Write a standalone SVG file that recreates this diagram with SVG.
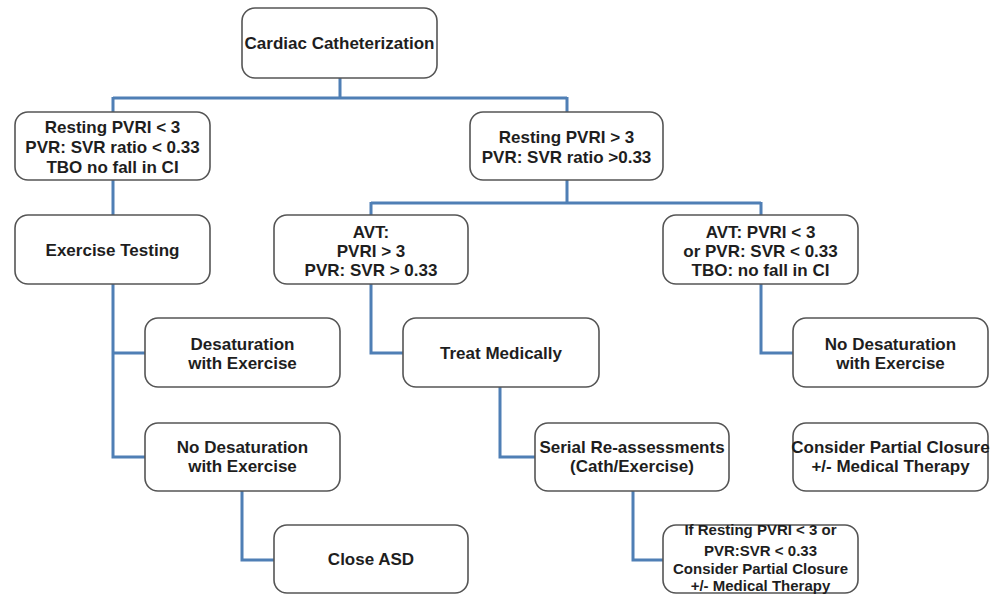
<svg xmlns="http://www.w3.org/2000/svg" width="1001" height="594" viewBox="0 0 1001 594">
<style>
.box{fill:#fff;stroke:#555;stroke-width:1.6}
.t{font-family:"Liberation Sans",Arial,sans-serif;font-weight:bold;font-size:17px;fill:#1e1e1e;text-anchor:middle}
.s{font-size:15px}
.c{fill:none;stroke:#4f7fb5;stroke-width:3}
</style>
<rect width="1001" height="594" fill="#fff"/>
<g id="connectors">
<path class="c" d="M340 78V98M113 98H567M113 97V112M567 97V112"/>
<path class="c" d="M113 180V215M113 284V457H145M113 353H145"/>
<path class="c" d="M242 491V560H274"/>
<path class="c" d="M567 180V203M371 203H761M371 202V215M761 202V215"/>
<path class="c" d="M371 284V353H403"/>
<path class="c" d="M761 284V353H793"/>
<path class="c" d="M500 387V457H535"/>
<path class="c" d="M633 491V560H663"/>
</g>
<g id="n-cath"><rect class="box" x="242" y="8" width="195" height="70" rx="13"/><text class="t" x="339.5" y="49">Cardiac Catheterization</text></g>
<g id="n-rest-low"><rect class="box" x="15" y="112" width="195" height="68" rx="13"/><text class="t" x="112.5" y="133">Resting PVRI &lt; 3</text><text class="t" x="112.5" y="153">PVR: SVR ratio &lt; 0.33</text><text class="t" x="112.5" y="173">TBO no fall in CI</text></g>
<g id="n-rest-high"><rect class="box" x="470" y="112" width="193" height="68" rx="13"/><text class="t" x="566.5" y="143">Resting PVRI &gt; 3</text><text class="t" x="566.5" y="163">PVR: SVR ratio &gt;0.33</text></g>
<g id="n-exercise"><rect class="box" x="15" y="215" width="195" height="69" rx="13"/><text class="t" x="112.5" y="256">Exercise Testing</text></g>
<g id="n-avt-high"><rect class="box" x="274" y="215" width="194" height="69" rx="13"/><text class="t" x="371" y="238">AVT:</text><text class="t" x="371" y="257">PVRI &gt; 3</text><text class="t" x="371" y="276">PVR: SVR &gt; 0.33</text></g>
<g id="n-avt-low"><rect class="box" x="663" y="215" width="195" height="69" rx="13"/><text class="t" x="760.5" y="238">AVT: PVRI &lt; 3</text><text class="t" x="760.5" y="257">or PVR: SVR &lt; 0.33</text><text class="t" x="760.5" y="276">TBO: no fall in CI</text></g>
<g id="n-desat"><rect class="box" x="145" y="318" width="195" height="69" rx="13"/><text class="t" x="242.5" y="350">Desaturation</text><text class="t" x="242.5" y="369">with Exercise</text></g>
<g id="n-treat"><rect class="box" x="403" y="318" width="196" height="69" rx="13"/><text class="t" x="501" y="359">Treat Medically</text></g>
<g id="n-nodesat-r"><rect class="box" x="793" y="318" width="195" height="69" rx="13"/><text class="t" x="890.5" y="350">No Desaturation</text><text class="t" x="890.5" y="369">with Exercise</text></g>
<g id="n-nodesat-l"><rect class="box" x="145" y="423" width="195" height="68" rx="13"/><text class="t" x="242.5" y="453">No Desaturation</text><text class="t" x="242.5" y="472">with Exercise</text></g>
<g id="n-serial"><rect class="box" x="535" y="423" width="194" height="68" rx="13"/><text class="t" x="632" y="453">Serial Re-assessments</text><text class="t" x="632" y="472">(Cath/Exercise)</text></g>
<g id="n-partial"><rect class="box" x="793" y="423" width="195" height="68" rx="13"/><text class="t" x="890.5" y="453">Consider Partial Closure</text><text class="t" x="890.5" y="472">+/- Medical Therapy</text></g>
<g id="n-closeasd"><rect class="box" x="274" y="525" width="194" height="68" rx="13"/><text class="t" x="371" y="565">Close ASD</text></g>
<g id="n-ifresting"><rect class="box" x="663" y="525" width="195" height="68" rx="13"/><text class="t s" x="760.5" y="535">If Resting PVRI &lt; 3 or</text><text class="t s" x="760.5" y="556">PVR:SVR &lt; 0.33</text><text class="t s" x="760.5" y="574">Consider Partial Closure</text><text class="t s" x="760.5" y="591">+/- Medical Therapy</text></g>
</svg>
